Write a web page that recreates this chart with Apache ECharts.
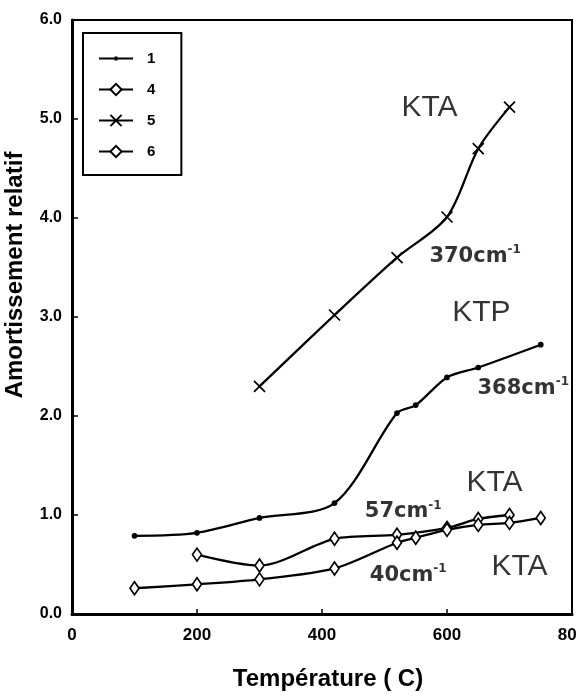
<!DOCTYPE html>
<html lang="fr">
<head>
<meta charset="UTF-8"/>
<script type="text/javascript" src="https://cdn.jsdelivr.net/npm/echarts@6/dist/echarts.min.js"></script>
<title>Amortissement relatif</title>
<style>
    html, body { margin: 0; padding: 0; background: #fff; }
    #main { width: 577px; height: 697px; }
</style>
</head>
<body>
<div id="main"></div>
<script type="text/javascript">
    // temperatures (C) and relative damping
    var s1 = [[100, 0.79], [200, 0.82], [300, 0.97], [420, 1.12], [520, 2.03], [550, 2.11], [600, 2.39], [650, 2.49], [750, 2.72]]
    var s4 = [[200, 0.60], [300, 0.49], [420, 0.76], [520, 0.80], [600, 0.87], [650, 0.96], [700, 1.00]]
    var s5 = [[300, 2.30], [420, 3.02], [520, 3.60], [600, 4.01], [650, 4.70], [700, 5.12]]
    var s6 = [[100, 0.26], [200, 0.30], [300, 0.35], [420, 0.46], [520, 0.72], [550, 0.77], [600, 0.85], [650, 0.90], [700, 0.92], [750, 0.97]]
    var legendNames = ['1', '4', '5', '6']

    // text written on the plot, anchored in data units
    var notes = [
        ['{k|KTA}', 572, 5.11],
        ['{h|370cm}{s|-1}', 645, 3.61],
        ['{k|KTP}', 655, 3.04],
        ['{h|368cm}{s|-1}', 722, 2.28],
        ['{k|KTA}', 676, 1.33],
        ['{h|57cm}{s|-1}', 530, 1.03],
        ['{h|40cm}{s|-1}', 538, 0.39],
        ['{k|KTA}', 716, 0.48]
    ]

    var font = 'Liberation Sans'

    function curve(name, data, symbol, size, fill) {
        return {
            name: name,
            type: 'line',
            data: data,
            smooth: 0.3,
            symbol: symbol,
            symbolSize: size,
            showAllSymbol: true,
            color: '#000',
            lineStyle: {color: '#000', width: 2.3},
            itemStyle: {color: fill, borderColor: '#000', borderWidth: 1.7},
            z: 3
        }
    }

    // legend sample for series 1: a plain line with a small dot (corner points keep the box 34x14)
    var dotLine = 'path://M0,0L0,0ZM34,14L34,14ZM0,5.9L34,5.9L34,8.1L0,8.1ZM15.5,5L18.5,5L18.5,9L15.5,9Z'

    var myChart = echarts.init(document.getElementById('main'))
    var option = {
        backgroundColor: '#fff',
        animation: false,
        grid: {left: 72, right: 5, top: 20, bottom: 83, outerBoundsMode: 'none', containLabel: false,
            show: true, borderColor: '#000', borderWidth: 2},
        legend: {
            data: [{name: legendNames[0], icon: dotLine, itemStyle: {borderWidth: 0}}, legendNames[1], legendNames[2], legendNames[3]],
            orient: 'vertical',
            left: 83,
            top: 33,
            padding: [18, 26, 16, 15],
            itemWidth: 34,
            itemHeight: 14,
            itemGap: 16,
            borderColor: '#000',
            borderWidth: 2,
            selectedMode: false,
            textStyle: {fontFamily: font, fontWeight: 'bold', fontSize: 15, color: '#000', padding: [0, 0, 0, 9]}
        },
        xAxis: {
            type: 'value',
            min: 0,
            max: 800,
            interval: 200,
            name: 'Température ( C)',
            nameLocation: 'middle',
            nameGap: 53,
            nameTextStyle: {fontFamily: font, fontWeight: 'bold', fontSize: 24, color: '#000', padding: [0, 0, 0, 12]},
            axisLine: {lineStyle: {color: '#000', width: 3}},
            axisTick: {inside: true, length: 5, lineStyle: {color: '#000', width: 1.5}},
            axisLabel: {fontFamily: font, fontWeight: 'bold', fontSize: 17, color: '#000', margin: 13, showMaxLabel: true},
            splitLine: {show: false}
        },
        yAxis: {
            type: 'value',
            min: 0,
            max: 6,
            interval: 1,
            name: 'Amortissement relatif',
            nameLocation: 'middle',
            nameGap: 45,
            nameRotate: 90,
            nameTextStyle: {fontFamily: font, fontWeight: 'bold', fontSize: 24, color: '#000', padding: [0, 0, 0, 84]},
            axisLine: {lineStyle: {color: '#000', width: 3}},
            axisTick: {inside: true, length: 6, lineStyle: {color: '#000', width: 1.5}},
            axisLabel: {fontFamily: font, fontWeight: 'bold', fontSize: 16, color: '#000', margin: 10,
                formatter: function (v) { return v.toFixed(1) }},
            splitLine: {show: false}
        },
        series: [
            curve('1', s1, 'circle', 4, '#000'),
            curve('4', s4, 'diamond', [9, 13], '#fff'),
            curve('5', s5, 'path://M0,0L10,10M10,0L0,10', 11, '#000'),
            curve('6', s6, 'diamond', [9, 13], '#fff'),
            {
                name: 'notes',
                type: 'scatter',
                silent: true,
                symbolSize: 0,
                data: notes.map(function (n) {
                    return {value: [n[1], n[2]], label: {formatter: n[0]}}
                }),
                label: {
                    show: true,
                    position: 'inside',
                    rich: {
                        k: {fontFamily: font, fontSize: 30, color: '#000'},
                        h: {fontFamily: 'DejaVu Sans', fontWeight: 'bold', fontSize: 21, color: '#000'},
                        s: {fontFamily: 'DejaVu Sans', fontWeight: 'bold', fontSize: 12, color: '#000', padding: [0, 0, 13, 0]}
                    }
                },
                z: 5
            }
        ]
    }
    myChart.setOption(option)
</script>
</body>
</html>
